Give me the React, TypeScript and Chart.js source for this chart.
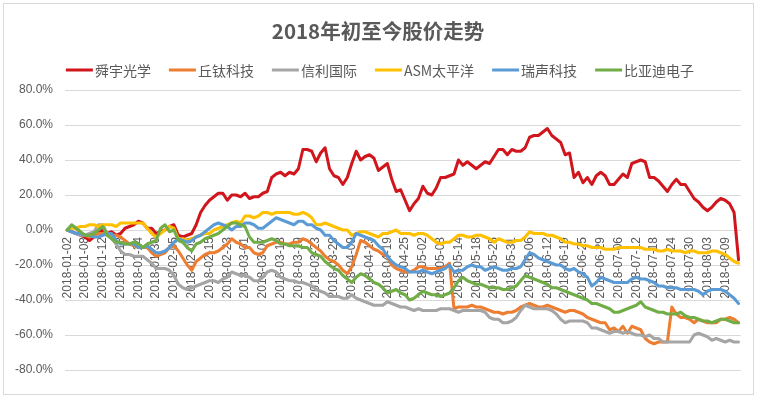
import React, { useEffect, useRef } from 'react';
import { Chart, registerables } from 'chart.js';

Chart.register(...registerables);

const TITLE = '2018年初至今股价走势';

const DATES = [
  '2018-01-02','2018-01-03','2018-01-04','2018-01-05','2018-01-08','2018-01-09','2018-01-10','2018-01-11','2018-01-12','2018-01-15',
  '2018-01-16','2018-01-17','2018-01-18','2018-01-19','2018-01-22','2018-01-23','2018-01-24','2018-01-25','2018-01-26','2018-01-29',
  '2018-01-30','2018-01-31','2018-02-01','2018-02-02','2018-02-05','2018-02-06','2018-02-07','2018-02-08','2018-02-09','2018-02-12',
  '2018-02-13','2018-02-14','2018-02-15','2018-02-20','2018-02-21','2018-02-22','2018-02-23','2018-02-26','2018-02-27','2018-02-28',
  '2018-03-01','2018-03-02','2018-03-05','2018-03-06','2018-03-07','2018-03-08','2018-03-09','2018-03-12','2018-03-13','2018-03-14',
  '2018-03-15','2018-03-16','2018-03-19','2018-03-20','2018-03-21','2018-03-22','2018-03-23','2018-03-26','2018-03-27','2018-03-28',
  '2018-03-29','2018-04-03','2018-04-04','2018-04-06','2018-04-09','2018-04-10','2018-04-11','2018-04-12','2018-04-13','2018-04-16',
  '2018-04-17','2018-04-18','2018-04-19','2018-04-20','2018-04-23','2018-04-24','2018-04-25','2018-04-26','2018-04-27','2018-04-30',
  '2018-05-02','2018-05-03','2018-05-04','2018-05-07','2018-05-08','2018-05-09','2018-05-10','2018-05-11','2018-05-14','2018-05-15',
  '2018-05-16','2018-05-17','2018-05-18','2018-05-21','2018-05-23','2018-05-24','2018-05-25','2018-05-28','2018-05-29','2018-05-30',
  '2018-05-31','2018-06-01','2018-06-04','2018-06-05','2018-06-06','2018-06-07','2018-06-08','2018-06-11','2018-06-12','2018-06-13',
  '2018-06-14','2018-06-15','2018-06-19','2018-06-20','2018-06-21','2018-06-22','2018-06-25','2018-06-26','2018-06-27','2018-06-28',
  '2018-06-29','2018-07-03','2018-07-04','2018-07-05','2018-07-06','2018-07-09','2018-07-10','2018-07-11','2018-07-12','2018-07-13',
  '2018-07-16','2018-07-17','2018-07-18','2018-07-19','2018-07-20','2018-07-23','2018-07-24','2018-07-25','2018-07-26','2018-07-27',
  '2018-07-30','2018-07-31','2018-08-01','2018-08-02','2018-08-03','2018-08-06','2018-08-07','2018-08-08','2018-08-09','2018-08-10',
  '2018-08-13','2018-08-14',
];

const SERIES_NAMES = ['舜宇光学', '丘钛科技', '信利国际', 'ASM太平洋', '瑞声科技', '比亚迪电子'];
const SERIES_COLORS = ['#d0161c', '#ed7d31', '#a5a5a5', '#ffc000', '#5b9bd5', '#70ad47'];

// values in percent change since 2018-01-02
const SUNNY = [
  0, -1, -2, -3, -4, -6, -4, -1, 0, -2,
  -1, -3, -2, 1, 2, 3, 5, 4, 1, 1,
  -2, -1, 0, 2, 3, -3, -4, -3, -2, 3,
  10, 14, 17, 19, 21, 21, 17, 20, 20, 19,
  21, 18, 19, 19, 21, 22, 30, 32, 33, 31,
  33, 32, 35, 46, 46, 45, 39, 44, 47, 35,
  31, 30, 26, 30, 38, 45, 40, 42, 43, 41,
  34, 36, 38, 29, 22, 23, 17, 11, 15, 18,
  25, 21, 20, 24, 30, 30, 31, 32, 40, 37,
  39, 37, 35, 37, 39, 38, 42, 46, 46, 43,
  46, 45, 45, 47, 53, 54, 54, 56, 58, 54,
  52, 50, 43, 44, 30, 33, 27, 30, 26, 31,
  33, 31, 26, 26, 29, 32, 30, 38, 39, 40,
  39, 30, 30, 28, 25, 22, 26, 29, 26, 26,
  22, 18, 16, 13, 11, 13, 16, 18, 17, 15,
  10, -17,
];

const QTECH = [
  0, 2, 1, -2, -3, -4, -3, -2, -2, -3,
  -3, -3, -4, -6, -8, -9, -10, -10, -10, -13,
  -15, -14, -13, -10, -9, -12, -16, -20, -23, -18,
  -16, -14, -13, -13, -12, -10, -8, -5, -7, -8,
  -10, -10, -13, -14, -13, -9, -8, -7, -7, -8,
  -8, -7, -7, -5, -6, -8, -10, -12, -15, -17,
  -18, -20, -23, -25, -21, -14, -6, -7, -9, -11,
  -12, -14, -15, -20, -22, -23, -24, -24, -23, -21,
  -21, -22, -22, -22, -22, -21, -19, -45, -44, -44,
  -44, -43, -44, -44, -45, -46, -47, -47, -48, -47,
  -47, -46, -44, -43, -42, -43, -44, -44, -43, -44,
  -45, -46, -47, -46, -46, -47, -48, -50, -51, -52,
  -53, -53, -57, -56, -58, -55, -59, -55, -56, -57,
  -62, -64, -65, -64, -64, -64, -44, -48, -50, -50,
  -51, -53, -51, -52, -53, -53, -53, -51, -51, -50,
  -51, -53,
];

const TRULY = [
  0, -1, -2, -3, -3, -2, -1, 3, 3, -2,
  -5, -8, -12, -14, -14, -15, -15, -15, -17, -19,
  -22, -22, -22, -23, -26, -31, -33, -34, -33, -32,
  -31, -30, -29, -29, -30, -28, -27, -24, -25, -26,
  -26, -27, -29, -29, -27, -24, -23, -24, -27, -28,
  -29, -29, -30, -30, -31, -32, -34, -35, -36, -38,
  -38, -38, -39, -39, -37, -39, -40, -41, -42, -43,
  -43, -43, -41, -42, -43, -44, -44, -45, -46, -45,
  -46, -46, -46, -46, -45, -45, -45, -46, -47, -46,
  -46, -46, -46, -46, -47, -50, -51, -51, -53, -53,
  -52, -50, -46, -43, -44, -45, -45, -45, -45, -46,
  -48, -51, -53, -52, -52, -52, -52, -53, -56, -56,
  -57, -58, -59, -58, -58, -59, -58, -59, -60, -60,
  -61, -60, -62, -62, -64, -64, -64, -64, -64, -64,
  -64, -60, -59, -60, -61, -63, -62, -63, -64, -63,
  -64, -64,
];

const ASMPT = [
  0, 1, 1, 2, 2, 3, 3, 2, 3, 3,
  3, 2, 4, 4, 4, 4, 4, 4, 1, -2,
  -4, -2, 0, 2, 1, -5, -5, -6, -5, -4,
  -3, -2, -2, 0, 1, 2, 3, 4, 5, 4,
  8, 8, 7, 8, 10, 10, 9, 10, 10, 10,
  10, 9, 9, 10, 9, 7, 3, 3, 4, 3,
  2, 1, 0, 0, -3, -2, -1, -1, -2, -3,
  -4, -2, -2, -1, 0, -2, -2, -2, -3, -2,
  -2, -3, -5, -7, -8, -7, -7, -5, -3, -3,
  -4, -4, -3, -3, -4, -5, -7, -5, -6, -7,
  -7, -6, -6, -4, -1, -2, -2, -2, -3, -3,
  -4, -5, -7, -7, -8, -8, -9, -9, -10, -10,
  -10, -11, -11, -11, -10, -10, -10, -10, -10, -10,
  -11, -11, -11, -12, -12, -11, -12, -12, -12, -13,
  -12, -12, -13, -13, -13, -12, -12, -13, -14, -16,
  -18, -19,
];

const AAC = [
  0, -1, -2, -2, -3, -3, -4, -4, -3, -2,
  -2, -6, -8, -8, -8, -8, -10, -10, -9, -11,
  -13, -13, -12, -10, -7, -5, -6, -7, -6, -4,
  -3, -1, 1, 3, 4, 3, 2, 0, 2, 2,
  4, 4, 3, 1, 1, 3, 5, 7, 6, 5,
  4, 3, 5, 5, 3, 3, 1, 0, -3, -3,
  -6, -8, -10, -10, -7, -2, -3, -4, -5, -6,
  -9, -11, -15, -18, -20, -21, -22, -24, -24, -24,
  -23, -24, -25, -24, -23, -22, -20, -24, -23, -23,
  -21, -20, -21, -21, -23, -22, -21, -22, -23, -23,
  -22, -22, -21, -17, -13, -14, -16, -17, -18, -19,
  -20, -20, -22, -23, -22, -24, -25, -27, -32, -30,
  -27, -28, -29, -30, -30, -30, -30, -28, -27, -28,
  -28, -29, -30, -32, -32, -33, -33, -33, -34, -34,
  -34, -34, -35, -37, -35, -34, -34, -34, -35, -37,
  -39, -42,
];

const BYDE = [
  0, 3, 1, -1, -3, -3, -2, 0, 2, -3,
  -5, -7, -7, -8, -8, -7, -8, -10, -8, -7,
  -6, 1, 3, -1, 0, -6, -7, -10, -12, -8,
  -7, -5, -4, -3, -2, 0, 2, 4, 4, 3,
  2, -4, -7, -7, -7, -6, -5, -6, -8, -8,
  -9, -9, -9, -10, -10, -13, -14, -15, -18, -20,
  -22, -23, -26, -28, -30, -27, -25, -26, -28, -30,
  -31, -33, -36, -35, -34, -36, -37, -40, -39, -37,
  -35, -36, -37, -37, -38, -37, -36, -33, -29, -27,
  -29, -30, -31, -31, -32, -33, -33, -33, -34, -34,
  -33, -32, -29, -26, -27, -28, -29, -30, -31, -33,
  -33, -34, -35, -36, -37, -38, -39, -40, -42, -42,
  -43, -44, -45, -47, -47, -46, -45, -44, -43, -41,
  -44, -45, -46, -47, -47, -48, -48, -48, -47, -49,
  -50, -50, -51, -52, -52, -53, -52, -51, -51, -52,
  -53, -53,
];

const SERIES = [SUNNY, QTECH, TRULY, ASMPT, AAC, BYDE];

const Y_MIN = -80;
const Y_MAX = 80;
const Y_STEP = 20;
const LABEL_EVERY = 4;

const TEXT_COLOR = '#595959';
const GRID_COLOR = '#d9d9d9';
const LATIN_FONT = '"Liberation Sans", "Noto Sans CJK SC", sans-serif';
const CJK_FONT = '"Noto Sans CJK SC", "Liberation Sans", sans-serif';

const decorPlugin = {
  id: 'decor',
  beforeDraw(chart: any) {
    const { ctx, width, height } = chart;
    ctx.save();
    ctx.fillStyle = '#ffffff';
    ctx.fillRect(0, 0, width, height);
    ctx.strokeStyle = GRID_COLOR;
    ctx.lineWidth = 1;
    ctx.strokeRect(3.5, 3.5, 750, 391);
    ctx.restore();
  },
  afterDraw(chart: any) {
    const { ctx } = chart;
    ctx.save();
    // title
    ctx.font = `bold 20.5px ${CJK_FONT}`;
    ctx.fillStyle = TEXT_COLOR;
    ctx.textAlign = 'center';
    ctx.textBaseline = 'middle';
    ctx.fillText(TITLE, 378, 31);

    // legend
    ctx.font = `14px ${CJK_FONT}`;
    const lineW = 27;
    const gapText = 2;
    const gapItem = 18;
    const dsets = chart.data.datasets;
    const widths = dsets.map((d: any) => ctx.measureText(d.label).width);
    let total = 0;
    widths.forEach((w: number, i: number) => {
      total += lineW + gapText + w + (i < widths.length - 1 ? gapItem : 0);
    });
    let x = 380 - total / 2;
    const y = 70;
    ctx.textAlign = 'left';
    dsets.forEach((d: any, i: number) => {
      ctx.strokeStyle = d.borderColor;
      ctx.lineWidth = 3;
      ctx.lineCap = 'butt';
      ctx.beginPath();
      ctx.moveTo(x, y);
      ctx.lineTo(x + lineW, y);
      ctx.stroke();
      ctx.fillStyle = TEXT_COLOR;
      ctx.fillText(d.label, x + lineW + gapText, y + 1);
      x += lineW + gapText + widths[i] + gapItem;
    });
    ctx.restore();
  },
};

export default function App() {
  const canvasRef = useRef<HTMLCanvasElement | null>(null);

  useEffect(() => {
    if (!canvasRef.current) return;
    const chart = new Chart(canvasRef.current, {
      type: 'line',
      data: {
        labels: DATES,
        datasets: SERIES.map((data, k) => ({
          label: SERIES_NAMES[k],
          data,
          borderColor: SERIES_COLORS[k],
          backgroundColor: SERIES_COLORS[k],
          borderWidth: 3,
          pointRadius: 0,
          pointHoverRadius: 0,
          tension: 0,
          fill: false,
          borderJoinStyle: 'round',
          borderCapStyle: 'round',
          order: SERIES.length - k,
        })),
      },
      options: {
        responsive: false,
        animation: false,
        events: [],
        layout: { padding: { top: 90, right: 19, bottom: 28, left: 0 } },
        plugins: {
          legend: { display: false },
          title: { display: false },
          tooltip: { enabled: false },
        },
        scales: {
          x: {
            type: 'category',
            position: { y: 0 },
            offset: true,
            grid: { display: false, drawTicks: false },
            border: { display: false },
            ticks: {
              autoSkip: false,
              maxRotation: 90,
              minRotation: 90,
              padding: 7,
              color: TEXT_COLOR,
              font: { size: 12, family: LATIN_FONT },
              callback: (_v: any, i: number) => (i % LABEL_EVERY === 0 ? DATES[i] : ''),
            },
          },
          y: {
            min: Y_MIN,
            max: Y_MAX,
            grid: { color: GRID_COLOR, lineWidth: 1, drawTicks: false },
            border: { display: false },
            ticks: {
              stepSize: Y_STEP,
              padding: 12,
              color: TEXT_COLOR,
              font: { size: 12, family: LATIN_FONT },
              callback: (v: any) => Number(v).toFixed(1) + '%',
            },
            afterFit: (scale: any) => {
              scale.width = 65;
            },
          },
        },
      } as any,
      plugins: [decorPlugin],
    });
    return () => chart.destroy();
  }, []);

  return (
    <div style={{ position: 'absolute', left: 0, top: 0, width: 760, height: 398, background: '#fff' }}>
      <canvas ref={canvasRef} width={760} height={398} style={{ display: 'block' }} />
    </div>
  );
}
